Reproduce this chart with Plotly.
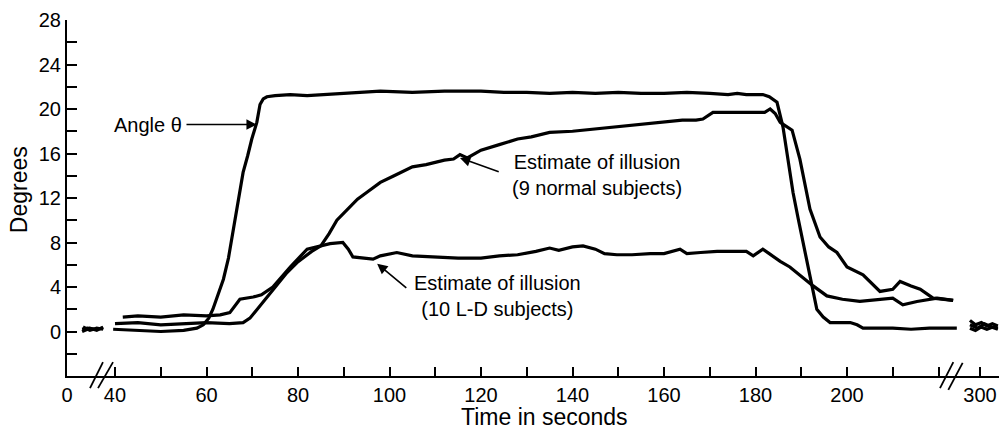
import plotly.graph_objects as go

# ---------------- data (time in seconds, degrees) ----------------
angle_time = [3.3, 4.5, 6.0, 7.9,
              39.6, 45, 50, 55, 56.4, 57.9, 59.3, 60.5, 61.4, 62.5, 63.7, 64.8, 65.8, 67.0, 68.0,
              69.0, 69.9, 71.0, 71.7, 72.4, 73.2, 75, 78.3, 82, 85.5, 90, 93.6, 98, 105, 112,
              120, 125, 130, 135, 140, 145, 150, 155, 160, 165, 170, 174, 176, 178, 180, 181.6,
              183, 184.7, 186.0, 187.0, 188.2, 189.3, 190.4, 191.2, 191.9, 192.7, 193.4, 194.8,
              196.3, 198, 200.7, 202.2, 203.5, 206, 210, 214, 218, 222, 224,
              297.8, 299.0, 300.2, 301.5, 302.8, 303.9]
angle_deg = [0.2, 0.3, 0.2, 0.3,
             0.2, 0.1, 0.0, 0.1, 0.2, 0.3, 0.6, 1.2, 2.0, 3.3, 4.7, 6.6, 9.0, 11.8, 14.3,
             15.8, 17.3, 18.8, 20.4, 20.9, 21.1, 21.2, 21.3, 21.2, 21.3, 21.4, 21.5, 21.6, 21.5, 21.6,
             21.6, 21.5, 21.5, 21.4, 21.5, 21.4, 21.5, 21.4, 21.4, 21.5, 21.4, 21.3, 21.4, 21.3, 21.3, 21.3,
             21.1, 20.6, 18.4, 15.8, 12.5, 10.2, 8.0, 6.3, 4.7, 3.2, 2.0, 1.3,
             0.8, 0.8, 0.8, 0.6, 0.3, 0.3, 0.3, 0.2, 0.3, 0.3, 0.3,
             0.3, 0.1, 0.4, 0.2, 0.4, 0.3]

normal_time = [3.3, 5.0, 6.5, 7.9,
               40, 45, 50, 55, 60, 65, 68.0, 69.5, 71.7, 74.5, 77.6, 79.8, 83.0, 85.0, 86.8,
               88.5, 91, 93, 95, 98, 101, 105, 108, 112, 114, 115.4, 117, 120, 124, 128, 131,
               135, 140, 145, 150, 155, 160, 164, 167, 168.5, 170.7, 175, 180, 182, 183.2,
               184.3, 185.4, 188, 189.7, 191.9, 194.1, 196, 197.8, 200, 203.5, 205, 207.2, 210,
               211.6, 214, 216, 218.8, 221, 223.2,
               297.8, 299.0, 300.3, 301.5, 302.7, 303.9]
normal_deg = [0.0, 0.3, 0.1, 0.4,
              0.7, 0.8, 0.6, 0.7, 0.8, 0.7, 0.8, 1.2, 2.3, 3.8, 5.3, 6.2, 7.2, 7.7, 8.8,
              10.0, 11.1, 11.9, 12.5, 13.4, 14.0, 14.8, 15.0, 15.4, 15.5, 15.9, 15.6, 16.3, 16.8, 17.3, 17.5,
              17.9, 18.0, 18.2, 18.4, 18.6, 18.8, 19.0, 19.0, 19.1, 19.7, 19.7, 19.7, 19.7, 20.0,
              19.6, 18.8, 18.1, 15.5, 11.0, 8.5, 7.6, 7.1, 5.8, 5.1, 4.5, 3.6, 3.8,
              4.5, 4.1, 3.8, 3.0, 2.9, 2.8,
              1.0, 0.6, 0.8, 0.5, 0.7, 0.5]

ld_time = [3.5, 5.0, 6.5, 7.9,
           41.7, 45, 50, 55, 60, 63, 65.1, 66.3, 67.3, 70.2, 72, 74.5, 78.3, 82, 84.8, 87,
           89.8, 91, 92, 94, 96.4, 98, 101.6, 105, 110, 115, 120, 124, 128, 132, 135, 137,
           140, 142.3, 145, 147, 149.7, 153, 157, 160, 163.5, 165, 168, 171.6, 175, 178, 179.5,
           181.6, 183, 185.4, 187.5, 190.4, 192.6, 195.6, 199, 202.8, 205, 207, 210, 212.2,
           215.3, 219.7, 223.2,
           297.8, 299.5, 301.0, 302.5, 303.9]
ld_deg = [0.4, 0.1, 0.3, 0.2,
          1.3, 1.4, 1.3, 1.5, 1.4, 1.5, 1.7, 2.3, 2.9, 3.1, 3.3, 4.0, 5.8, 7.4, 7.7, 7.9,
          8.0, 7.4, 6.7, 6.6, 6.5, 6.8, 7.1, 6.8, 6.7, 6.6, 6.6, 6.8, 6.9, 7.2, 7.5, 7.3,
          7.6, 7.7, 7.4, 7.0, 6.9, 6.9, 7.0, 7.0, 7.4, 7.0, 7.1, 7.2, 7.2, 7.2, 6.8,
          7.4, 7.0, 6.3, 5.8, 4.8, 4.1, 3.2, 2.9, 2.7, 2.8, 2.9, 3.0, 2.4,
          2.7, 3.0, 2.8,
          0.6, 0.3, 0.7, 0.4, 0.2]

x_label_times = [0, 40, 60, 80, 100, 120, 140, 160, 180, 200, 300]
x_tick_times = [0, 40, 50, 60, 70, 80, 90, 100, 110, 120, 130, 140, 150, 160, 170, 180,
                190, 200, 210, 220, 300]
y_tick_vals = list(range(-2, 29, 2))
y_label_vals = [0, 4, 8, 12, 16, 20, 24, 28]

# ---------------- broken time axis ----------------
ZERO_POS = 29.51   # axis position of t = 0 (left of the first break)
POS_300 = 229.07   # axis position of t = 300 (right of the second break)


def axis_pos(t):
    if t < 20:
        return ZERO_POS + t
    if t > 250:
        return POS_300 + (t - 300)
    return t


def segment(t):
    return 0 if t < 20 else (2 if t > 250 else 1)


def build(ts, vs):
    xs, ys, prev = [], [], None
    for t, v in zip(ts, vs):
        s = segment(t)
        if prev is not None and s != prev:
            xs.append(None)
            ys.append(None)
        xs.append(axis_pos(t))
        ys.append(v)
        prev = s
    return xs, ys


FONT = "Liberation Sans, Arial, Helvetica, sans-serif"
fig = go.Figure()
for ts, vs in [(angle_time, angle_deg), (normal_time, normal_deg), (ld_time, ld_deg)]:
    xs, ys = build(ts, vs)
    fig.add_trace(go.Scatter(x=xs, y=ys, mode="lines", connectgaps=False,
                             line=dict(color="black", width=3.2), showlegend=False,
                             hoverinfo="skip"))

tickvals_x = [axis_pos(t) for t in x_tick_times]
ticktext_x = [str(t) if t in x_label_times else "" for t in x_tick_times]
ticktext_y = [str(v) if v in y_label_vals else "" for v in y_tick_vals]

fig.update_layout(
    width=999, height=431,
    margin=dict(l=67, r=0, t=20, b=55),
    paper_bgcolor="white", plot_bgcolor="white",
    font=dict(family=FONT, color="black", size=20),
    xaxis=dict(range=[ZERO_POS, 233.22], tickmode="array", tickvals=tickvals_x,
               ticktext=ticktext_x, ticks="inside", ticklen=9, tickwidth=1.6,
               tickcolor="black", showline=True, linecolor="black", linewidth=2,
               showgrid=False, zeroline=False, tickfont=dict(size=20, family=FONT)),
    yaxis=dict(range=[-4, 28], tickmode="array", tickvals=y_tick_vals,
               ticktext=ticktext_y, ticks="inside", ticklen=10, tickwidth=1.6,
               tickcolor="black", showline=True, linecolor="black", linewidth=2,
               showgrid=False, zeroline=False, tickfont=dict(size=20, family=FONT)),
)

# axis titles
fig.add_annotation(text="Time in seconds", xref="paper", yref="paper", x=0.512, y=-0.115,
                   showarrow=False, font=dict(size=23, family=FONT), xanchor="center",
                   yanchor="middle")
fig.add_annotation(text="Degrees", xref="paper", yref="paper", x=-0.0515, y=0.522,
                   showarrow=False, textangle=-90, font=dict(size=23, family=FONT),
                   xanchor="center", yanchor="middle")

# labels with arrows
labels = [
    ("Angle θ", 47.2, 18.6, (55.3, 18.6), (71.0, 18.6)),
    ("Estimate of illusion<br>(9 normal subjects)", 145.4, 14.1, (124.2, 14.3), (115.4, 15.6)),
    ("Estimate of illusion<br>(10 L-D subjects)", 123.5, 3.2, (104.0, 3.8), (97.3, 6.1)),
]
for text, tx, ty, tail, head in labels:
    fig.add_annotation(text=text, x=tx, y=ty, xref="x", yref="y", showarrow=False,
                       align="center", font=dict(size=20, family=FONT))
    fig.add_annotation(text="", x=head[0], y=head[1], xref="x", yref="y",
                       ax=tail[0], ay=tail[1], axref="x", ayref="y", showarrow=True,
                       arrowhead=2, arrowsize=1.3, arrowwidth=1.6, arrowcolor="black")

# axis break marks (//)
breaks = [((0.0247, -0.034), (0.0386, 0.039)), ((0.0333, -0.034), (0.0494, 0.039)),
          ((0.9367, -0.034), (0.9510, 0.039)), ((0.9456, -0.039), (0.9610, 0.037))]
for (x0, y0), (x1, y1) in breaks:
    fig.add_shape(type="line", xref="paper", yref="paper", x0=x0, y0=y0, x1=x1, y1=y1,
                  line=dict(color="black", width=1.8))

fig.write_html("out.html", config={"displayModeBar": False},
               post_script="document.body.style.margin='0';document.body.style.overflow='hidden';")
